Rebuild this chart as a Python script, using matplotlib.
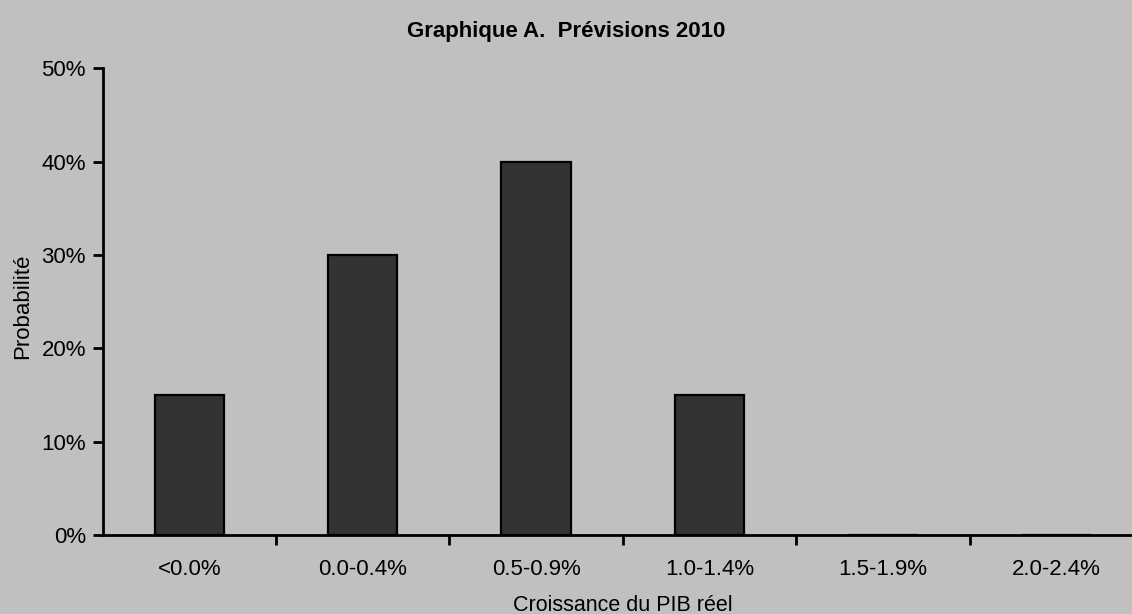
import matplotlib.pyplot as plt
from matplotlib.ticker import FuncFormatter

# Data
categories = ["<0.0%", "0.0-0.4%", "0.5-0.9%", "1.0-1.4%", "1.5-1.9%", "2.0-2.4%"]
probabilities = [15, 30, 40, 15, 0, 0]

plt.rcParams["font.family"] = ["Liberation Sans", "DejaVu Sans"]

bg = "#c0c0c0"
fs = 16
fig = plt.figure(figsize=(11.32, 6.14), dpi=100, facecolor=bg)
ax = fig.add_axes([0.0907, 0.1287, 0.919, 0.760], facecolor=bg)

x = list(range(len(categories)))
ax.bar(x, probabilities, width=0.4, color="#333333", edgecolor="black", linewidth=1.6, zorder=3)

ax.set_xlim(-0.5, len(categories) - 0.5)
ax.set_ylim(0, 50)
ax.set_yticks([0, 10, 20, 30, 40, 50])
ax.yaxis.set_major_formatter(FuncFormatter(lambda v, p: f"{v:.0f}%"))

# category labels centred, tick marks at category boundaries
ax.set_xticks(x)
ax.set_xticklabels(categories)
ax.tick_params(axis="x", which="major", length=0, pad=17, labelsize=fs)
ax.set_xticks([i + 0.5 for i in range(len(categories) - 1)], minor=True)
ax.tick_params(axis="x", which="minor", length=7, width=2, direction="out")
ax.tick_params(axis="y", length=7, width=2, direction="out", labelsize=fs, pad=5)

for side in ["top", "right"]:
    ax.spines[side].set_visible(False)
for side in ["left", "bottom"]:
    ax.spines[side].set_linewidth(2)

ax.set_xlabel("Croissance du PIB réel", fontsize=15.5, labelpad=11)
ax.set_ylabel("Probabilité", fontsize=16)
ax.yaxis.set_label_coords(-0.067, 0.49)
fig.text(0.5, 0.948, "Graphique A.  Prévisions 2010", ha="center", va="center",
         fontsize=fs, fontweight="bold")

fig.savefig("out.png", dpi=100, facecolor=bg)
